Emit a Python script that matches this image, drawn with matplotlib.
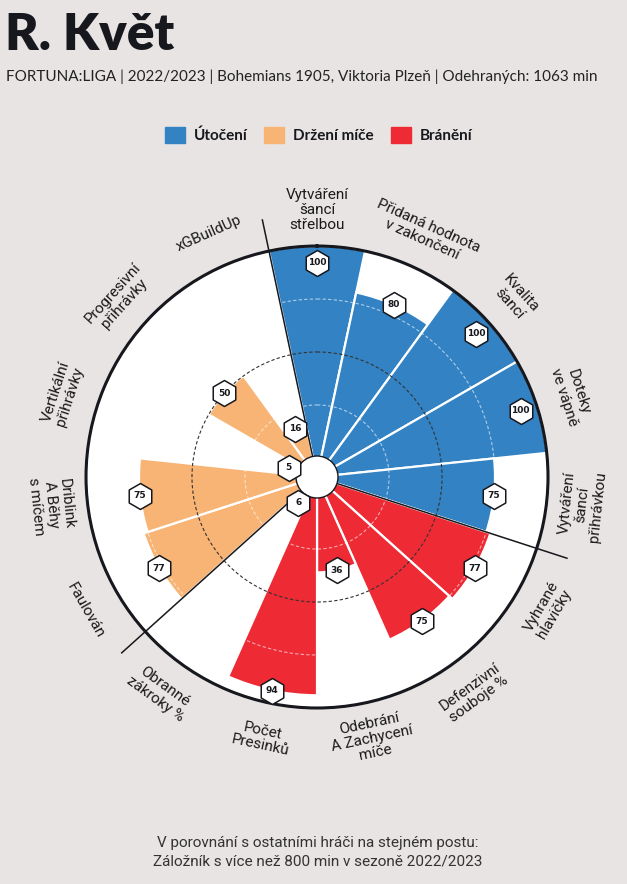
import matplotlib.pyplot as plt
import numpy as np
from matplotlib.patches import Patch, Circle

# data
kategorie = ["Vytváření\nšancí\nstřelbou", "Přidaná hodnota\nv zakončení", "Kvalita\nšancí",
             "Doteky\nve vápně", "Vytváření\nšancí\npřihrávkou",
             "Vyhrané\nhlavičky", "Defenzivní\nsouboje %", "Odebrání\nA Zachycení\nmíče",
             "Počet\nPresinků", "Obranné\nzákroky %",
             "Faulován", "Driblink\nA Běhy\ns míčem", "Vertikální\npřihrávky",
             "Progresivní\npřihrávky", "xGBuildUp"]
hodnoty = [100, 80, 100, 100, 75, 77, 75, 36, 94, 6, 77, 75, 5, 50, 16]
skupiny = ["Útočení"] * 5 + ["Bránění"] * 5 + ["Držení míče"] * 5
legenda = ["Útočení", "Držení míče", "Bránění"]

barvy = {"Útočení": "#3282c4", "Držení míče": "#f8b474", "Bránění": "#ee2a35"}
bg = "#e8e4e3"
tmava = "#16181d"

plt.rcParams['font.family'] = ['Lato', 'DejaVu Sans']
tenky = ['Roboto', 'DejaVu Sans']

fig = plt.figure(figsize=(6.27, 8.84), dpi=100, facecolor=bg)
ax = fig.add_axes([0.1372, 0.1991, 0.7368, 0.5226], projection='polar')
ax.set_facecolor("white")
ax.set_theta_zero_location('N')
ax.set_theta_direction(-1)
ax.set_ylim(-9, 100)
ax.set_xticks([])
ax.set_yticks([])
ax.grid(False)
ax.spines['polar'].set_linewidth(2.2)
ax.spines['polar'].set_color(tmava)

n = len(hodnoty)
sirka = 2 * np.pi / n
uhly = np.arange(n) * sirka

ax.bar(uhly, hodnoty, width=sirka, bottom=0,
       color=[barvy[s] for s in skupiny], edgecolor="white", linewidth=1.6, zorder=2)

# kruznice
t = np.linspace(0, 2 * np.pi, 500)
ax.plot(t, np.full_like(t, 50), color="#333333", lw=0.8, ls=(0, (3, 2)), zorder=4)
for r in [25, 75]:
    ax.plot(t, np.full_like(t, r), color="white", lw=0.8, ls=(0, (3, 2)), alpha=0.6, zorder=4)

# hranice skupin
for k in [0, 5, 10]:
    a = uhly[k] - sirka / 2
    ax.plot([a, a], [-9, 115], color=tmava, lw=1.1, zorder=5, clip_on=False)

ax.add_patch(Circle((0.5, 0.5), 21 / 462, transform=ax.transAxes,
                    facecolor="white", edgecolor=tmava, lw=1.0, zorder=6))

# hodnoty v sestiuhelnicich
pozice = [v if v < 95 else 92 for v in hodnoty]
ax.scatter(uhly, pozice, marker='h', s=350, facecolor="white", edgecolor=tmava,
           linewidth=1.1, zorder=7, clip_on=False)
for a, r, v in zip(uhly, pozice, hodnoty):
    ax.text(a, r, str(v), ha="center", va="center", fontsize=6.5, fontweight="bold",
            family="DejaVu Sans", color=tmava, zorder=8)

# popisky
for a, lab in zip(uhly, kategorie):
    deg = np.degrees(a)
    rot = 180 - deg if 90 < deg < 270 else -deg
    ax.text(a, 117, lab, rotation=rot, rotation_mode="anchor", ha="center", va="center",
            fontsize=11, fontweight="normal", family=tenky, color="#1a1a1a", linespacing=1.1)

fig.text(5 / 627, 1 - 50 / 884, "R. Květ", fontsize=37, fontweight="heavy",
         color=tmava, va="baseline")
fig.text(6 / 627, 1 - 81 / 884,
         "FORTUNA:LIGA | 2022/2023 | Bohemians 1905, Viktoria Plzeň | Odehraných: 1063 min",
         fontsize=11, color="#222222", va="baseline")

handles = [Patch(facecolor=barvy[s], edgecolor=barvy[s]) for s in legenda]
fig.legend(handles, legenda, loc="center", bbox_to_anchor=(0.508, 1 - 135 / 884), ncol=3,
           frameon=False, prop={"size": 11, "weight": "bold"}, labelcolor=tmava,
           handlelength=1.3, handleheight=1.3, columnspacing=1.1, handletextpad=0.6)

fig.text(0.506, 1 - 843 / 884, "V porovnání s ostatními hráči na stejném postu:",
         fontsize=11, fontweight="normal", family=tenky, color="#333333", ha="center", va="center")
fig.text(0.506, 1 - 862 / 884, "Záložník s více než 800 min v sezoně 2022/2023",
         fontsize=11, fontweight="normal", family=tenky, color="#333333", ha="center", va="center")

fig.savefig("out.png", dpi=100, facecolor=bg)
